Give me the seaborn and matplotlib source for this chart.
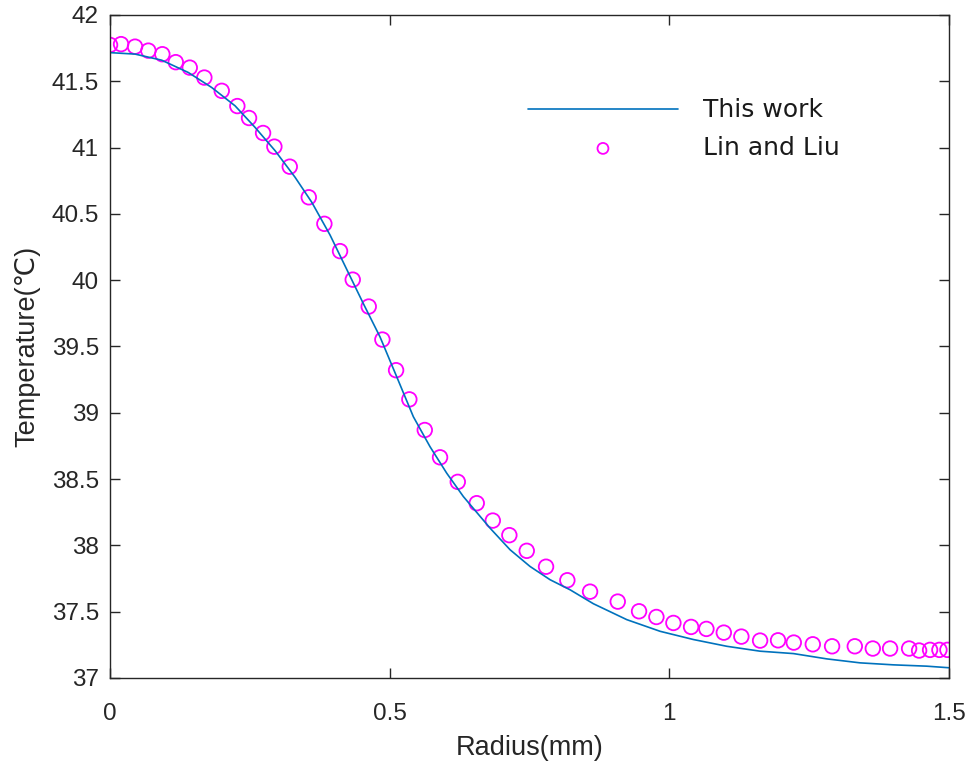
import matplotlib
matplotlib.use("Agg")
import matplotlib.pyplot as plt
import seaborn as sns
import pandas as pd

# Model curve: radial temperature profile computed in this work
radius_model = [0.0, 0.0447, 0.0924, 0.140, 0.1818, 0.2235, 0.2593, 0.2950,
                0.3308, 0.3606, 0.3934, 0.4529, 0.4827, 0.5126, 0.5423, 0.5721,
                0.6020, 0.6317, 0.6794, 0.7152, 0.7509, 0.7867, 0.8225, 0.8641,
                0.9238, 0.9834, 1.0429, 1.1026, 1.1622, 1.2217, 1.2814, 1.3410,
                1.4005, 1.4602, 1.5]
temp_model = [41.716, 41.705, 41.659, 41.566, 41.453, 41.315, 41.152, 40.977,
              40.776, 40.588, 40.340, 39.823, 39.572, 39.271, 38.970, 38.744,
              38.544, 38.368, 38.130, 37.967, 37.841, 37.741, 37.665, 37.560,
              37.440, 37.352, 37.290, 37.239, 37.202, 37.184, 37.144, 37.114,
              37.099, 37.089, 37.077]

# Reference data points (Lin and Liu)
radius_ref = [0.0, 0.0197, 0.0447, 0.0685, 0.0935, 0.1175, 0.1425, 0.1686,
              0.1997, 0.2276, 0.2485, 0.2736, 0.2938, 0.3213, 0.3553, 0.3832,
              0.4112, 0.4339, 0.4625, 0.4869, 0.5114, 0.5351, 0.5627, 0.5900,
              0.6217, 0.6556, 0.6843, 0.7139, 0.7450, 0.7795, 0.8176, 0.8582,
              0.9077, 0.9458, 0.9768, 1.0072, 1.0388, 1.0662, 1.0973, 1.1287,
              1.1622, 1.1943, 1.2224, 1.2564, 1.2909, 1.3315, 1.3637, 1.3946,
              1.4286, 1.4465, 1.4661, 1.4828, 1.4971]
temp_ref = [41.774, 41.780, 41.761, 41.731, 41.704, 41.644, 41.603, 41.528,
            41.428, 41.313, 41.223, 41.110, 41.007, 40.856, 40.625, 40.425,
            40.219, 40.004, 39.801, 39.552, 39.321, 39.101, 38.870, 38.664,
            38.479, 38.318, 38.187, 38.077, 37.959, 37.839, 37.737, 37.651,
            37.576, 37.503, 37.460, 37.415, 37.385, 37.370, 37.342, 37.312,
            37.282, 37.284, 37.267, 37.254, 37.239, 37.239, 37.222, 37.222,
            37.222, 37.207, 37.212, 37.212, 37.212]

x_ticks = [0, 0.5, 1, 1.5]
x_tick_labels = ["0", "0.5", "1", "1.5"]
y_ticks = [37, 37.5, 38, 38.5, 39, 39.5, 40, 40.5, 41, 41.5, 42]
y_tick_labels = ["37", "37.5", "38", "38.5", "39", "39.5", "40", "40.5",
                 "41", "41.5", "42"]

sns.set_style("ticks")
plt.rcParams["font.family"] = ["Liberation Sans", "DejaVu Sans"]

model_df = pd.DataFrame({"Radius": radius_model, "Temperature": temp_model})
ref_df = pd.DataFrame({"Radius": radius_ref, "Temperature": temp_ref})

fig = plt.figure(figsize=(9.79, 7.64), dpi=100)
ax = fig.add_axes([0.1124, 0.1126, 0.8570, 0.8678])

sns.lineplot(data=model_df, x="Radius", y="Temperature", ax=ax,
             color="#0072BD", linewidth=1.2, label="This work")
sns.scatterplot(data=ref_df, x="Radius", y="Temperature", ax=ax,
                marker="o", s=110, facecolors="none", edgecolor="#FF00FF",
                linewidth=1.3, label="Lin and Liu")

ax.set_xlim(0, 1.5)
ax.set_ylim(37, 42)
ax.set_xticks(x_ticks)
ax.set_xticklabels(x_tick_labels)
ax.set_yticks(y_ticks)
ax.set_yticklabels(y_tick_labels)

text_color = "#262626"
ax.tick_params(axis="both", direction="in", length=7, width=1,
               top=True, right=True, labelsize=17.5, colors=text_color)
ax.tick_params(axis="x", pad=18)
ax.tick_params(axis="y", pad=8)
for side in ["left", "right", "top", "bottom"]:
    ax.spines[side].set_visible(True)
    ax.spines[side].set_color("#262626")
    ax.spines[side].set_linewidth(1.0)

ax.set_xlabel("Radius(mm)", fontsize=19.5, color=text_color, labelpad=7)
ax.set_ylabel("Temperature(℃)", fontsize=19.5, color=text_color, labelpad=8)

leg = ax.legend(loc="upper left", bbox_to_anchor=(0.4713, 0.908),
                frameon=False, handlelength=6.0, handletextpad=1.0,
                labelspacing=0.54, markerscale=0.75,
                prop={"family": "DejaVu Sans", "size": 18})
for t in leg.get_texts():
    t.set_color("#1a1a1a")

fig.savefig("out.png", dpi=100)
